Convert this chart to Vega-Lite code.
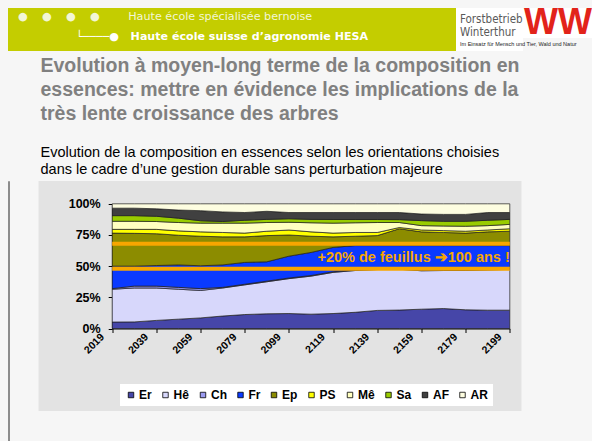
{
  "$schema": "https://vega.github.io/schema/vega-lite/v6.json",
  "background": "#f6f6f6",
  "padding": {"left": 7, "top": 5, "right": 0, "bottom": 0},
  "autosize": {"type": "pad"},
  "config": {
    "font": "Liberation Sans",
    "view": {"stroke": null},
    "title": {"font": "Liberation Sans", "subtitleFont": "Liberation Sans"}
  },
  "datasets": {
    "comp": [
      {"year": 2019, "Er": 5.2, "Hê": 26.3, "Ch": 0.5, "Fr": 18, "Ep": 26.5, "PS": 3, "Mê": 6.5, "Sa": 4.5, "AF": 6, "AR": 3.5},
      {"year": 2029, "Er": 5.3, "Hê": 27.2, "Ch": 1.5, "Fr": 16, "Ep": 26.3, "PS": 3.2, "Mê": 6.5, "Sa": 4.5, "AF": 6, "AR": 3.5},
      {"year": 2039, "Er": 6.5, "Hê": 26, "Ch": 1.5, "Fr": 16.5, "Ep": 25.5, "PS": 3.5, "Mê": 6.3, "Sa": 4.2, "AF": 6, "AR": 4},
      {"year": 2049, "Er": 7.5, "Hê": 24, "Ch": 1.5, "Fr": 18, "Ep": 23.8, "PS": 3.5, "Mê": 6.7, "Sa": 3.5, "AF": 6.5, "AR": 5},
      {"year": 2059, "Er": 8.5, "Hê": 22, "Ch": 1.5, "Fr": 18.3, "Ep": 23.7, "PS": 3.5, "Mê": 7, "Sa": 1.9, "AF": 8.1, "AR": 5.5},
      {"year": 2069, "Er": 10, "Hê": 22.5, "Ch": 0.5, "Fr": 18, "Ep": 22.5, "PS": 3.5, "Mê": 7.5, "Sa": 1.3, "AF": 7.7, "AR": 6.5},
      {"year": 2079, "Er": 11.2, "Hê": 23.8, "Ch": 0.5, "Fr": 17.5, "Ep": 20.5, "PS": 3, "Mê": 8, "Sa": 2.3, "AF": 6.2, "AR": 7},
      {"year": 2089, "Er": 11.8, "Hê": 25.7, "Ch": 0.5, "Fr": 15.5, "Ep": 21, "PS": 3.5, "Mê": 7, "Sa": 2.5, "AF": 6.5, "AR": 6},
      {"year": 2099, "Er": 12, "Hê": 28, "Ch": 0.5, "Fr": 17.5, "Ep": 17, "PS": 4, "Mê": 6.2, "Sa": 2.8, "AF": 5, "AR": 7},
      {"year": 2109, "Er": 11.5, "Hê": 30.5, "Ch": 0.5, "Fr": 18.5, "Ep": 13, "PS": 3.5, "Mê": 7.3, "Sa": 2.7, "AF": 5.5, "AR": 7},
      {"year": 2119, "Er": 12, "Hê": 33, "Ch": 0.5, "Fr": 19.5, "Ep": 8.5, "PS": 3, "Mê": 8, "Sa": 2.9, "AF": 5.6, "AR": 7},
      {"year": 2129, "Er": 13, "Hê": 33.5, "Ch": 0.5, "Fr": 19.5, "Ep": 7.5, "PS": 3, "Mê": 7.8, "Sa": 2.6, "AF": 5.6, "AR": 7},
      {"year": 2139, "Er": 14.5, "Hê": 32.8, "Ch": 0.5, "Fr": 18.7, "Ep": 8, "PS": 2.5, "Mê": 8, "Sa": 2.4, "AF": 5.6, "AR": 7},
      {"year": 2149, "Er": 14.8, "Hê": 32.7, "Ch": 0.5, "Fr": 18.5, "Ep": 13.5, "PS": 1, "Mê": 4, "Sa": 2.3, "AF": 5.7, "AR": 7},
      {"year": 2159, "Er": 15.5, "Hê": 30.8, "Ch": 0.5, "Fr": 19.7, "Ep": 11, "PS": 1.5, "Mê": 3.5, "Sa": 4, "AF": 5.3, "AR": 8.2},
      {"year": 2169, "Er": 16, "Hê": 30.5, "Ch": 0.5, "Fr": 19.5, "Ep": 10.5, "PS": 1.5, "Mê": 3.7, "Sa": 3.8, "AF": 5.5, "AR": 8.5},
      {"year": 2179, "Er": 15, "Hê": 31.5, "Ch": 0.5, "Fr": 19.5, "Ep": 10, "PS": 1.5, "Mê": 4, "Sa": 4, "AF": 5.5, "AR": 8.5},
      {"year": 2189, "Er": 14.7, "Hê": 32.3, "Ch": 0.5, "Fr": 19, "Ep": 11, "PS": 1.5, "Mê": 3.5, "Sa": 4.3, "AF": 6.2, "AR": 7},
      {"year": 2199, "Er": 14.7, "Hê": 32.7, "Ch": 0.6, "Fr": 18.5, "Ep": 11.5, "PS": 2, "Mê": 3.5, "Sa": 4, "AF": 5.5, "AR": 7}
    ],
    "species": [
      {"sp": "Er", "i": 1}, {"sp": "Hê", "i": 2}, {"sp": "Ch", "i": 3}, {"sp": "Fr", "i": 4}, {"sp": "Ep", "i": 5},
      {"sp": "PS", "i": 6}, {"sp": "Mê", "i": 7}, {"sp": "Sa", "i": 8}, {"sp": "AF", "i": 9}, {"sp": "AR", "i": 10}
    ]
  },
  "spacing": 5,
  "vconcat": [
    {
      "spacing": 0,
      "bounds": "flush",
      "hconcat": [
        {
          "width": 448,
          "height": 43,
          "view": {"fill": "#c4cd00", "stroke": null},
          "data": {"values": []},
          "mark": "text",
          "title": {
            "text": "●\u00a0\u00a0\u00a0\u00a0●\u00a0\u00a0\u00a0\u00a0●\u00a0\u00a0\u00a0\u00a0●\u00a0\u00a0\u00a0\u00a0\u00a0\u00a0\u00a0\u00a0Haute école spécialisée bernoise",
            "subtitle": "\u200b\u00a0\u00a0\u00a0\u00a0\u00a0\u00a0\u00a0\u00a0\u00a0\u00a0\u00a0\u00a0\u00a0\u00a0\u00a0└────●\u00a0\u00a0\u00a0Haute école suisse d’agronomie HESA",
            "anchor": "start",
            "frame": "group",
            "dx": 10,
            "offset": -34.5,
            "font": "DejaVu Sans",
            "fontSize": 11.2,
            "fontWeight": "normal",
            "color": "#f2f6d6",
            "subtitleFont": "DejaVu Sans",
            "subtitleFontSize": 11.1,
            "subtitleFontWeight": "bold",
            "subtitleColor": "#ffffff",
            "subtitlePadding": 9.5
          }
        },
        {
          "width": 67,
          "height": 43,
          "view": {"fill": "#ffffff", "stroke": null},
          "data": {"values": []},
          "mark": "text",
          "title": {
            "text": ["Forstbetrieb", "Winterthur"],
            "subtitle": "Im Einsatz für Mensch und Tier, Wald und Natur",
            "anchor": "start",
            "frame": "group",
            "dx": 4,
            "offset": -39,
            "font": "DejaVu Sans Condensed",
            "fontSize": 11.5,
            "fontWeight": "normal",
            "color": "#5a5a5a",
            "lineHeight": 13,
            "subtitleFontSize": 5.5,
            "subtitleColor": "#222222",
            "subtitlePadding": 3
          }
        },
        {
          "width": 70,
          "height": 30,
          "view": {"fill": "#ffffff", "stroke": null},
          "data": {"values": [{"logo": "WW"}]},
          "mark": {"type": "text", "fontSize": 36, "fontWeight": "bold", "color": "#e2231a", "baseline": "middle", "font": "Liberation Sans"},
          "encoding": {"text": {"field": "logo"}}
        }
      ]
    },
    {
      "spacing": 29.5,
      "bounds": "flush",
      "hconcat": [
        {
          "width": 1,
          "height": 261,
          "view": {"fill": null, "stroke": "#8c8c8c", "strokeWidth": 1},
          "data": {"values": []},
          "mark": "text"
        },
        {
          "width": 483,
          "height": 230,
          "view": {"fill": "#e3e3e3", "stroke": null},
          "title": {
            "text": ["Evolution à moyen-long terme de la composition en", "essences: mettre en évidence les implications de la", "très lente croissance des arbres"],
            "subtitle": ["Evolution de la composition en essences selon les orientations choisies", "dans le cadre d’une gestion durable sans perturbation majeure"],
            "anchor": "start",
            "frame": "group",
            "dx": 2,
            "offset": 4,
            "fontSize": 19.5,
            "fontWeight": "bold",
            "color": "#808080",
            "lineHeight": 24,
            "subtitleFontSize": 14.5,
            "subtitleColor": "#000000",
            "subtitleLineHeight": 17,
            "subtitlePadding": 20.8
          },
          "layer": [
            {
              "data": {"name": "comp"},
              "transform": [
                {"fold": ["Er", "Hê", "Ch", "Fr", "Ep", "PS", "Mê", "Sa", "AF", "AR"], "as": ["sp", "v"]},
                {"lookup": "sp", "from": {"data": {"name": "species"}, "key": "sp", "fields": ["i"]}}
              ],
              "mark": {"type": "area", "stroke": "#1e1e1e", "strokeWidth": 0.7, "opacity": 1, "fillOpacity": 1, "interpolate": "linear"},
              "encoding": {
                "x": {
                  "field": "year", "type": "quantitative",
                  "scale": {"domain": [2019, 2199], "range": [73.7, 471.3], "nice": false, "zero": false},
                  "axis": {
                    "values": [2019, 2029, 2039, 2049, 2059, 2069, 2079, 2089, 2099, 2109, 2119, 2129, 2139, 2149, 2159, 2169, 2179, 2189, 2199],
                    "labelExpr": "(datum.value - 2019) % 20 == 0 ? '' + datum.value : ''",
                    "labelAngle": -45, "labelAlign": "right", "labelBaseline": "middle",
                    "labelFontSize": 10.5, "labelFontWeight": "bold", "labelColor": "#000000",
                    "labelPadding": 2.5, "labelOffset": -10, "labelOverlap": false, "labelFlush": false, "labelBound": false,
                    "tickSize": 4, "tickColor": "#000000", "domainColor": "#000000", "domainWidth": 1,
                    "offset": -82.5, "title": null, "grid": false
                  }
                },
                "y": {
                  "field": "v", "type": "quantitative", "stack": "normalize",
                  "scale": {"domain": [0, 1], "range": [147.5, 22.8], "nice": false, "zero": false},
                  "axis": {
                    "values": [0, 0.25, 0.5, 0.75, 1], "format": ".0%",
                    "labelFontSize": 12.5, "labelFontWeight": "bold", "labelColor": "#000000", "labelPadding": 8,
                    "tickSize": 4, "tickColor": "#000000", "domainColor": "#000000", "domainWidth": 1,
                    "offset": -73.7, "title": null, "grid": false
                  }
                },
                "color": {
                  "field": "sp", "type": "nominal",
                  "scale": {
                    "domain": ["Er", "Hê", "Ch", "Fr", "Ep", "PS", "Mê", "Sa", "AF", "AR"],
                    "range": ["#4646a8", "#d7d7fb", "#9a9af0", "#0a3aff", "#8c8c00", "#ffff00", "#ffffc0", "#99cc00", "#404040", "#fdfde0"]
                  },
                  "legend": {
                    "orient": "none", "legendX": 112, "legendY": 376, "direction": "horizontal", "title": null,
                    "fillColor": "#ffffff", "padding": 5, "symbolType": "square", "symbolSize": 30,
                    "symbolStrokeColor": "#000000", "symbolStrokeWidth": 0.8, "symbolOpacity": 1,
                    "labelFontSize": 12, "labelFontWeight": "bold", "labelColor": "#000000", "labelOffset": 2, "columnPadding": 7.5
                  }
                },
                "order": {"field": "i", "type": "quantitative"}
              }
            },
            {
              "data": {"values": [{"level": 0.48}, {"level": 0.68}]},
              "mark": {"type": "rule", "color": "#f7a600", "strokeWidth": 4},
              "encoding": {
                "y": {"field": "level", "type": "quantitative"},
                "x": {"datum": 2019},
                "x2": {"datum": 2199}
              }
            },
            {
              "data": {"values": [{"year": 2199, "share": 0.565, "note": "+20% de feuillus ➔100 ans !"}]},
              "mark": {"type": "text", "align": "right", "baseline": "middle", "fontSize": 14.5, "fontWeight": "bold", "color": "#f7a600", "font": "Liberation Sans"},
              "encoding": {
                "x": {"field": "year", "type": "quantitative"},
                "y": {"field": "share", "type": "quantitative"},
                "text": {"field": "note"}
              }
            }
          ]
        }
      ]
    }
  ]
}
